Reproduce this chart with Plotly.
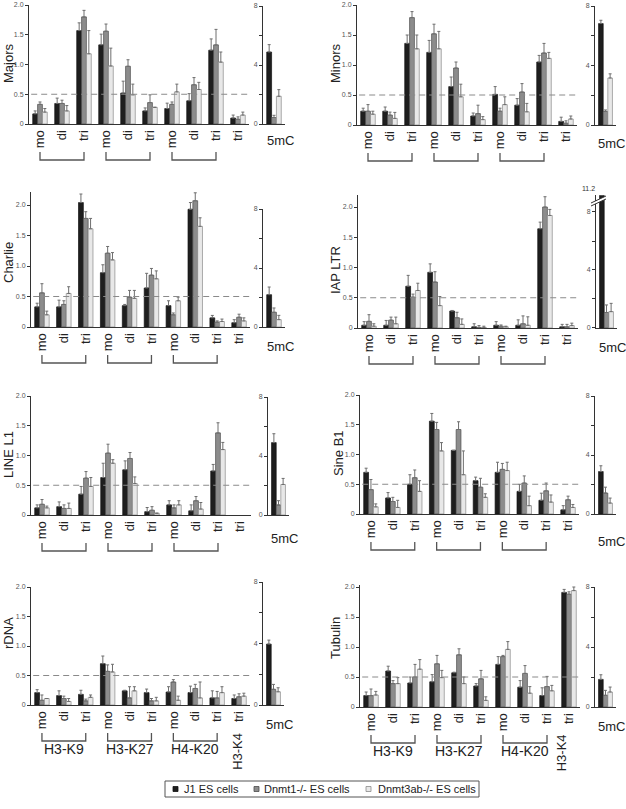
import plotly.graph_objects as go

W, H = 626, 809
def PX(x): return x / W
def PY(y): return 1 - y / H

# ---------------- data ----------------
series_names = ["J1 ES cells", "Dnmt1-/- ES cells", "Dnmt3ab-/- ES cells"]
tick_labels = ["mo", "di", "tri", "mo", "di", "tri", "mo", "di", "tri", "tri"]
group_labels = ["H3-K9", "H3-K27", "H4-K20"]
last_group_label = "H3-K4"
panel_names = ["Majors", "Minors", "Charlie", "IAP LTR", "LINE L1", "Sine B1", "rDNA", "Tubulin"]

majors = [[0.17, 0.345, 1.57, 1.33, 0.52, 0.22, 0.26, 0.39, 1.24, 0.10],
          [0.33, 0.345, 1.80, 1.56, 0.97, 0.36, 0.33, 0.66, 1.33, 0.08],
          [0.20, 0.22, 1.18, 0.975, 0.49, 0.28, 0.54, 0.58, 1.04, 0.15]]
majors_err = [[0.05, 0.09, 0.13, 0.18, 0.20, 0.05, 0.09, 0.12, 0.19, 0.05],
              [0.04, 0.055, 0.11, 0.12, 0.11, 0.13, 0.04, 0.12, 0.26, 0.04],
              [0.06, 0.09, 0.39, 0.30, 0.18, 0.0, 0.13, 0.12, 0.17, 0.05]]
majors_5mc = [4.88, 0.44, 1.88]
majors_5mc_err = [0.5, 0.15, 0.45]

minors = [[0.23, 0.23, 1.36, 1.21, 0.64, 0.15, 0.51, 0.33, 1.05, 0.06],
          [0.23, 0.165, 1.79, 1.52, 0.95, 0.19, 0.23, 0.55, 1.20, 0.03],
          [0.18, 0.11, 1.27, 1.27, 0.47, 0.09, 0.34, 0.22, 1.11, 0.10]]
minors_err = [[0.05, 0.07, 0.14, 0.20, 0.16, 0.05, 0.13, 0.11, 0.11, 0.07],
              [0.11, 0.05, 0.10, 0.16, 0.10, 0.14, 0.05, 0.14, 0.16, 0.04],
              [0.05, 0.10, 0.23, 0.29, 0.21, 0.05, 0.13, 0.14, 0.10, 0.05]]
minors_5mc = [6.82, 0.91, 3.16]
minors_5mc_err = [0.22, 0.10, 0.28]

charlie = [[0.33, 0.33, 2.04, 0.89, 0.35, 0.64, 0.35, 1.93, 0.15, 0.07],
           [0.56, 0.37, 1.78, 1.21, 0.49, 0.85, 0.20, 2.07, 0.08, 0.16],
           [0.20, 0.55, 1.61, 1.10, 0.47, 0.79, 0.43, 1.65, 0.09, 0.10]]
charlie_err = [[0.06, 0.11, 0.14, 0.13, 0.02, 0.24, 0.08, 0.11, 0.04, 0.05],
               [0.15, 0.06, 0.11, 0.11, 0.11, 0.11, 0.03, 0.13, 0.02, 0.05],
               [0.06, 0.11, 0.17, 0.12, 0.13, 0.13, 0.06, 0.14, 0.04, 0.05]]
charlie_5mc = [2.19, 1.0, 0.5]
charlie_5mc_err = [0.52, 0.29, 0.29]

iap = [[0.045, 0.045, 0.69, 0.92, 0.28, 0.02, 0.045, 0.045, 1.64, 0.02],
       [0.11, 0.13, 0.51, 0.76, 0.17, 0.01, 0.03, 0.07, 2.0, 0.02],
       [0.03, 0.07, 0.62, 0.37, 0.06, 0.01, 0.02, 0.045, 1.86, 0.04]]
iap_err = [[0.06, 0.08, 0.18, 0.14, 0.01, 0.05, 0.06, 0.09, 0.11, 0.04],
           [0.11, 0.05, 0.05, 0.17, 0.09, 0.03, 0.02, 0.13, 0.17, 0.04],
           [0.04, 0.11, 0.12, 0.15, 0.09, 0.02, 0.01, 0.14, 0.10, 0.04]]
iap_5mc = [11.2, 1.07, 1.13]
iap_5mc_err = [0.3, 0.52, 0.57]

line1 = [[0.12, 0.14, 0.35, 0.63, 0.76, 0.056, 0.17, 0.07, 0.74, None],
         [0.18, 0.11, 0.62, 1.04, 0.95, 0.08, 0.12, 0.24, 1.38, None],
         [0.12, 0.11, 0.48, 0.87, 0.53, 0.03, 0.17, 0.10, 1.10, None]]
line1_err = [[0.05, 0.08, 0.13, 0.24, 0.15, 0.07, 0.07, 0.10, 0.11, 0],
             [0.08, 0.06, 0.11, 0.15, 0.10, 0.06, 0.05, 0.07, 0.17, 0],
             [0.03, 0.09, 0.15, 0.06, 0.11, 0.0, 0.07, 0.11, 0.12, 0]]
line1_5mc = [4.91, 0.68, 2.07]
line1_5mc_err = [0.6, 0.29, 0.41]

sineb1 = [[0.70, 0.27, 0.50, 1.56, 1.07, 0.56, 0.70, 0.38, 0.23, 0.07],
          [0.41, 0.21, 0.61, 1.42, 1.42, 0.45, 0.75, 0.52, 0.39, 0.24],
          [0.12, 0.11, 0.38, 1.06, 0.66, 0.28, 0.73, 0.14, 0.20, 0.11]]
sineb1_err = [[0.07, 0.09, 0.16, 0.13, 0.0, 0.06, 0.17, 0.12, 0.12, 0.07],
              [0.17, 0.07, 0.13, 0.12, 0.13, 0.15, 0.10, 0.12, 0.13, 0.06],
              [0.05, 0.12, 0.18, 0.14, 0.40, 0.06, 0.14, 0.16, 0.12, 0.05]]
sineb1_5mc = [2.88, 1.42, 0.74]
sineb1_5mc_err = [0.39, 0.40, 0.34]

rdna = [[0.21, 0.16, 0.18, 0.70, 0.24, 0.21, 0.22, 0.21, 0.12, 0.11],
        [0.08, 0.11, 0.07, 0.57, 0.12, 0.07, 0.39, 0.28, 0.12, 0.14],
        [0.11, 0.06, 0.13, 0.56, 0.24, 0.07, 0.08, 0.12, 0.21, 0.15]]
rdna_err = [[0.05, 0.08, 0.07, 0.13, 0.01, 0.06, 0.09, 0.11, 0.12, 0.06],
            [0.09, 0.04, 0.03, 0.11, 0.19, 0.04, 0.04, 0.07, 0.11, 0.05],
            [0.0, 0.05, 0.04, 0.13, 0.07, 0.06, 0.07, 0.27, 0.10, 0.05]]
rdna_5mc = [3.96, 1.02, 0.86]
rdna_5mc_err = [0.26, 0.32, 0.26]

tubulin = [[0.19, 0.60, 0.40, 0.42, 0.57, 0.35, 0.71, 0.33, 0.19, 1.91],
           [0.19, 0.39, 0.50, 0.72, 0.87, 0.47, 0.84, 0.56, 0.34, 1.88],
           [0.20, 0.39, 0.63, 0.49, 0.39, 0.11, 0.96, 0.23, 0.27, 1.94]]
tubulin_err = [[0.06, 0.08, 0.10, 0.12, 0.01, 0.04, 0.13, 0.11, 0.13, 0.05],
               [0.11, 0.05, 0.21, 0.14, 0.10, 0.14, 0.02, 0.13, 0.17, 0.04],
               [0.06, 0.10, 0.16, 0.12, 0.11, 0.06, 0.13, 0.11, 0.09, 0.06]]
tubulin_5mc = [1.84, 0.78, 1.0]
tubulin_5mc_err = [0.31, 0.33, 0.33]

iap_break_value = "11.2"

# ---------------- styles / geometry ----------------
FONT = "Liberation Sans, Arial, Helvetica, sans-serif"
fills = ["#1e1e1e", "#8c8c8c", "#e8e8e8"]
edges = ["#111111", "#4d4d4d", "#8a8a8a"]
ERRC = "#6e6e6e"
AXC = "#333333"
TXT = "#222222"

data_sets = [
    (majors, majors_err, majors_5mc, majors_5mc_err),
    (minors, minors_err, minors_5mc, minors_5mc_err),
    (charlie, charlie_err, charlie_5mc, charlie_5mc_err),
    (iap, iap_err, iap_5mc, iap_5mc_err),
    (line1, line1_err, line1_5mc, line1_5mc_err),
    (sineb1, sineb1_err, sineb1_5mc, sineb1_5mc_err),
    (rdna, rdna_err, rdna_5mc, rdna_5mc_err),
    (tubulin, tubulin_err, tubulin_5mc, tubulin_5mc_err),
]

geo = [
    dict(zero=124, two=5, m=(29, 249), c=(263, 285), eight=6, ytop=2.0, ctop=8, lab=(8, 63), cdy=16, k4x=9),
    dict(zero=125, two=5, m=(357, 577), c=(595, 616), eight=6, ytop=2.0, ctop=8, lab=(335, 63), cdy=18, k4x=9),
    dict(zero=327, two=205, m=(31, 250), c=(263, 285), eight=209, ytop=2.22, ctop=8, lab=(8, 263), cdy=19, k4x=9),
    dict(zero=328, two=207, m=(358, 578), c=(596, 617), eight=212, ytop=2.2, ctop=9.15, lab=(335, 270), cdy=19, k4x=9),
    dict(zero=515, two=396, m=(31, 251), c=(268, 289), eight=397, ytop=2.0, ctop=8, lab=(8, 455), cdy=23, k4x=9),
    dict(zero=514, two=395, m=(360, 579), c=(595, 616), eight=396, ytop=2.0, ctop=8, lab=(338, 453), cdy=27, k4x=9),
    dict(zero=705, two=587, m=(31, 250), c=(263, 284), eight=582, ytop=2.0, ctop=8, lab=(8, 633), cdy=19, k4x=8.9),
    dict(zero=707, two=587, m=(360, 580), c=(595, 616), eight=587, ytop=2.03, ctop=8, lab=(335, 638), cdy=19, k4x=8.65),
]

xpos = list(range(len(tick_labels)))

def axname(letter, i):
    return letter if i == 1 else f"{letter}{i}"

def ann(x, y, text, size, xref="paper", angle=0, xanchor="center", color=TXT):
    return dict(x=x, y=y, xref=xref, yref="paper", text=text, textangle=angle,
                showarrow=False, xanchor=xanchor, yanchor="middle",
                font=dict(size=size, color=color))

fig = go.Figure()
layout = dict(
    template="none",
    width=W, height=H, margin=dict(l=0, r=0, t=0, b=0, pad=0, autoexpand=False),
    paper_bgcolor="white", plot_bgcolor="rgba(0,0,0,0)",
    barmode="group", bargap=0.34, bargroupgap=0.0,
    font=dict(family=FONT, color=TXT),
    showlegend=False,
)
shapes = []
annotations = []

for k, (vals, errs, cvals, cerrs) in enumerate(data_sets):
    g = geo[k]
    im = 2 * k + 1
    ic = 2 * k + 2
    xm, ym = axname("x", im), axname("y", im)
    xc, yc = axname("x", ic), axname("y", ic)
    unit = (g["zero"] - g["two"]) / 2.0
    main_top_px = g["zero"] - g["ytop"] * unit
    cunit = (g["zero"] - g["eight"]) / 8.0
    c_top_px = g["zero"] - g["ctop"] * cunit

    for s in range(3):
        fig.add_trace(go.Bar(
            x=xpos, y=vals[s], name=series_names[s], legendgroup=series_names[s],
            marker=dict(color=fills[s], line=dict(color=edges[s], width=0.7)),
            error_y=dict(type="data", array=errs[s], arrayminus=[0] * len(xpos),
                         symmetric=False, color=ERRC, thickness=1, width=1.5),
            xaxis=xm, yaxis=ym,
        ))
    for s in range(3):
        ce = cerrs[s]
        if k == 3 and s == 0:
            ce = 0
        fig.add_trace(go.Bar(
            x=[0], y=[cvals[s]], name=series_names[s], legendgroup=series_names[s],
            marker=dict(color=fills[s], line=dict(color=edges[s], width=0.7)),
            error_y=dict(type="data", array=[ce], arrayminus=[0], symmetric=False,
                         color=ERRC, thickness=1, width=1.5),
            xaxis=xc, yaxis=yc,
        ))

    common = dict(showgrid=False, zeroline=False, fixedrange=True, automargin=False,
                  showline=True, linecolor=AXC, linewidth=1, ticklabeloverflow="allow")
    layout["xaxis" + ("" if im == 1 else str(im))] = dict(
        domain=[PX(g["m"][0]), PX(g["m"][1])], range=[-0.5, 9.5], anchor=ym,
        tickmode="array", tickvals=xpos, ticktext=tick_labels, tickangle=-90,
        tickfont=dict(size=13, color=TXT), ticks="", **common,
    )
    layout["yaxis" + ("" if im == 1 else str(im))] = dict(
        domain=[PY(g["zero"]), PY(main_top_px)], range=[0, g["ytop"]], anchor=xm,
        tickmode="array", tickvals=[0, 0.5, 1.0, 1.5, 2.0],
        ticktext=["0", "0.5", "1.0", "1.5", "2.0"], ticks="outside", ticklen=3,
        tickcolor=AXC, tickfont=dict(size=7, color="#555"), **common,
    )
    layout["xaxis" + str(ic)] = dict(
        domain=[PX(g["c"][0]), PX(g["c"][1])], range=[-0.5, 0.5], anchor=yc,
        showticklabels=False, ticks="", **common,
    )
    layout["yaxis" + str(ic)] = dict(
        domain=[PY(g["zero"]), PY(c_top_px)], range=[0, g["ctop"]], anchor=xc,
        tickmode="array", tickvals=[0, 2, 4, 6, 8], ticktext=["0", "", "4", "", "8"],
        ticks="outside", ticklen=3, tickcolor=AXC, tickfont=dict(size=7, color="#555"),
        **common,
    )

    # dashed 0.5 reference line
    shapes.append(dict(type="line", xref=f"{xm} domain", yref=ym, x0=0.01, x1=1.0,
                       y0=0.5, y1=0.5, line=dict(color="#8a8a8a", width=1, dash="6px,4px")))

    # brackets under the first three groups
    yb = PY(g["zero"] + 36)
    yt = PY(g["zero"] + 28)
    for gi in range(3):
        a, b = 3 * gi, 3 * gi + 2
        shapes.append(dict(type="path", xref=xm, yref="paper",
                           path=f"M {a},{yt} L {a},{yb} L {b},{yb} L {b},{yt}",
                           line=dict(color="#555", width=1.3)))
        if k >= 6:
            annotations.append(ann(a + 1, PY(g["zero"] + 44), group_labels[gi], 14, xref=xm))
    if k >= 6:
        annotations.append(ann(g["k4x"], PY(g["zero"] + 46), last_group_label, 13, xref=xm, angle=-90))

    annotations.append(ann(PX(g["lab"][0]), PY(g["lab"][1]), panel_names[k], 13, angle=-90))
    annotations.append(ann(PX((g["c"][0] + g["c"][1]) / 2 + 6), PY(g["zero"] + g["cdy"]),
                           "5mC", 13))

# axis break in the IAP LTR 5mC panel
bx0, bx1 = 591, 606
by = 202
shapes.append(dict(type="path", xref="paper", yref="paper",
                   path=f"M {PX(bx0)},{PY(by + 4)} L {PX(bx1)},{PY(by - 3)} L {PX(bx1)},{PY(by - 6)} L {PX(bx0)},{PY(by + 1)} Z",
                   fillcolor="white", line=dict(width=0)))
for off in (0, -3):
    shapes.append(dict(type="line", xref="paper", yref="paper",
                       x0=PX(bx0), y0=PY(by + 4 + off), x1=PX(bx1), y1=PY(by - 3 + off),
                       line=dict(color="#333", width=1)))
annotations.append(ann(PX(588), PY(188), iap_break_value, 7, color="#333"))

# legend box (drawn as a key)
shapes.append(dict(type="rect", xref="paper", yref="paper", x0=PX(165), x1=PX(479),
                   y0=PY(797), y1=PY(781), line=dict(color="#555", width=1), fillcolor="white"))
legend_sq_x = [173, 254, 366]
legend_tx_x = [182, 262, 376]
for s in range(3):
    shapes.append(dict(type="rect", xref="paper", yref="paper",
                       x0=PX(legend_sq_x[s]), x1=PX(legend_sq_x[s] + 5),
                       y0=PY(791.5), y1=PY(786.5),
                       line=dict(color=edges[s], width=0.8), fillcolor=fills[s]))
    annotations.append(ann(PX(legend_tx_x[s]), PY(789), series_names[s], 11, xanchor="left"))

layout["shapes"] = shapes
layout["annotations"] = annotations
fig.update_layout(**layout)
fig.write_html("out.html", config={"displayModeBar": False, "staticPlot": True},
               post_script="document.body.style.margin='0';document.body.style.overflow='hidden';")
